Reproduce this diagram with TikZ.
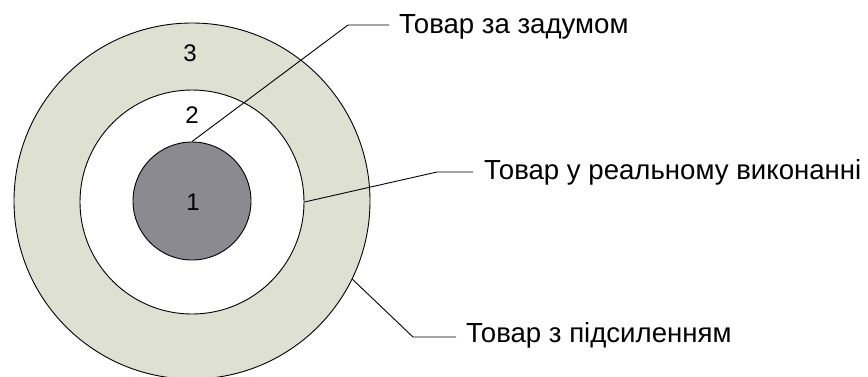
\documentclass[tikz,border=0pt]{standalone}
\usepackage{fontspec}
\setmainfont{Liberation Sans}
\definecolor{ringfill}{RGB}{222,224,210}
\definecolor{corefill}{RGB}{140,138,145}
\begin{document}
\begin{tikzpicture}[x=1pt,y=-1pt,
  ring/.style={circle,draw=black,line width=0.9pt,inner sep=0pt},
  lbl/.style={anchor=base west,inner sep=0pt,font=\fontsize{27.6}{30}\selectfont},
  num/.style={inner sep=0pt,font=\fontsize{24}{26}\selectfont},
  lead/.style={line width=0.9pt}]
\useasboundingbox (0,0) rectangle (868,376);
\node[ring,fill=ringfill,minimum size=356pt] (outer) at (192,201) {};
\node[ring,fill=white,minimum size=224pt] (middle) at (192,202) {};
\node[ring,fill=corefill,minimum size=118pt] (inner) at (192,201) {};
\node[num] (n1) at (193,202) {1};
\node[num] (n2) at (192,115) {2};
\node[num] (n3) at (190,53) {3};
\node[lbl] (l1) at (399,33) {Товар за задумом};
\node[lbl] (l2) at (484,179) {Товар у реальному виконанні};
\node[lbl] (l3) at (466,342) {Товар з підсиленням};
\coordinate (b1) at (348,25);
\coordinate (e1) at (389,25);
\coordinate (b2) at (437,172);
\coordinate (e2) at (473,172);
\coordinate (b3) at (413,337);
\coordinate (e3) at (456,337);
\draw[lead] (inner.north) -- (b1) -- (e1);
\draw[lead] (middle.east) -- (b2) -- (e2);
\draw[lead] (outer.-26.7) -- (b3) -- (e3);
\end{tikzpicture}
\end{document}
